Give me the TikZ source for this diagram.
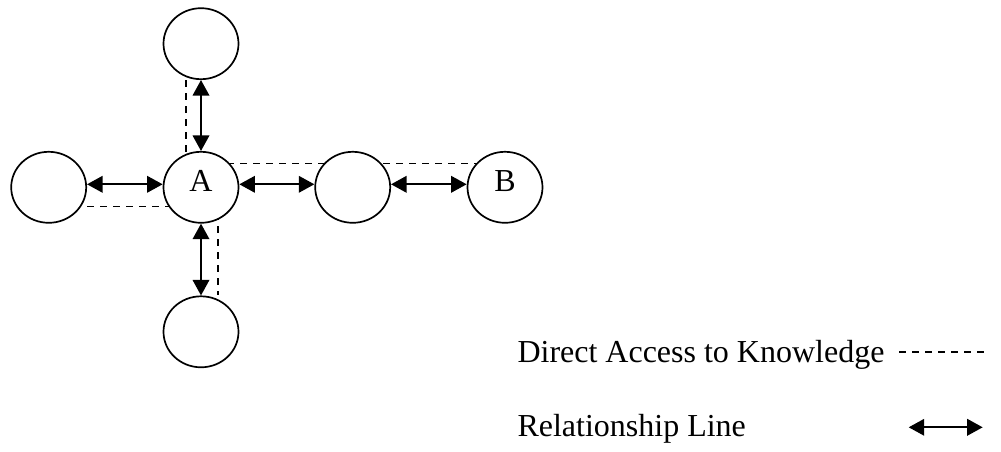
\documentclass[tikz,border=0pt]{standalone}
\usepackage{fontspec}
\setmainfont{Liberation Serif}
\usetikzlibrary{arrows.meta,shapes.geometric,backgrounds}

\begin{document}
\begin{tikzpicture}[x=1pt,y=-1pt,
  agent/.style={ellipse,draw,line width=1.7pt,fill=white,
    minimum width=75pt,minimum height=71pt,inner sep=0pt,
    font=\fontsize{32}{38}\selectfont,text height=0.82em},
  tip/.tip={Triangle[length=15.5pt 0 1,width=16.5pt 0 1]},
  relation/.style={line width=1.9pt,tip-tip},
  access/.style={line width=1.6pt,dash pattern=on 7pt off 6pt},
  legendtext/.style={anchor=base west,inner sep=0pt,font=\fontsize{32}{38}\selectfont}]

  \useasboundingbox (0,0) rectangle (1001,452);

  % agents
  \node[agent] (T) at (201,43.7) {};
  \node[agent] (L) at (48.7,187.3) {};
  \node[agent] (A) at (201,187.3) {A};
  \node[agent] (M) at (352.7,187.3) {};
  \node[agent] (B) at (505,187.3) {B};
  \node[agent] (D) at (201,331.8) {};

  % relationship lines
  \draw[relation] (T.south) -- (A.north);
  \draw[relation] (A.south) -- (D.north);
  \draw[relation] ([yshift=3pt]L.east) -- ([yshift=3pt]A.west);
  \draw[relation] ([yshift=3pt]A.east) -- ([yshift=3pt]M.west);
  \draw[relation] ([yshift=3pt]M.east) -- ([yshift=3pt]B.west);

  % white canvas and direct access to knowledge, behind the agents
  \begin{scope}[on background layer]
    \fill[white] (0,0) rectangle (1001,452);
    \draw[access] ([xshift=-15pt]T.south) -- ([xshift=-15pt]A.center);
    \draw[access] ([yshift=-19pt]L.east) -- ([yshift=-19pt]A.center);
    \draw[access] ([yshift=24pt]A.center) -- ([yshift=24pt]B.center);
    \draw[access] ([xshift=17pt]A.center) -- ([xshift=17pt]D.north);
  \end{scope}

  % legend
  \node[legendtext] (lk) at (517.3,362) {Direct Access to Knowledge};
  \node[legendtext] (lr) at (517.3,436.7) {Relationship Line};
  \coordinate (lk1) at (899.3,352);
  \coordinate (lk2) at (990.3,352);
  \coordinate (lr1) at (908.7,427.3);
  \coordinate (lr2) at (982.7,427.3);
  \draw[access] (lk1) -- (lk2);
  \draw[relation] (lr1) -- (lr2);
\end{tikzpicture}
\end{document}
